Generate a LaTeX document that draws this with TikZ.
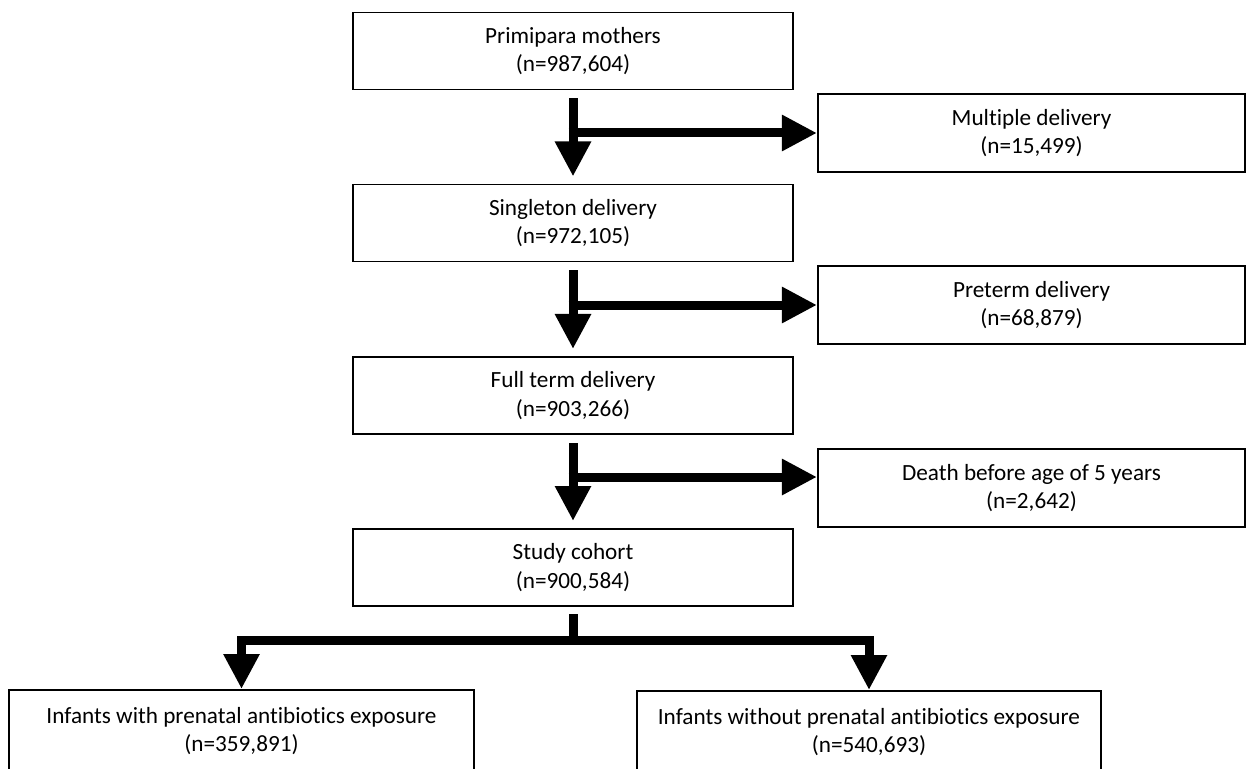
\documentclass[tikz,border=0pt]{standalone}
\usepackage{fontspec}
\setmainfont{Carlito}[Ligatures=NoCommon]
\usetikzlibrary{arrows.meta,positioning,calc}

\begin{document}
\begin{tikzpicture}[x=0.025cm,y=-0.025cm,
  box/.style={draw=black,line width=1.4pt,fill=white,align=center,
              font=\fontsize{16.5}{20}\selectfont,inner sep=2pt},
  mainbox/.style={box,minimum width=11cm,minimum height=1.925cm},
  sidebox/.style={box,minimum width=10.675cm,minimum height=1.95cm},
  outbox/.style={box,minimum width=11.6cm,minimum height=2.05cm},
  arr/.style={-{Triangle[width=0.85cm,length=0.875cm]},line width=6.4pt,line join=miter},
  shaft/.style={line width=6.4pt}
]
\useasboundingbox (0,0) rectangle (1246,768);
% main column
\node[mainbox] (pm) at (573,51)    {Primipara mothers\\(n=987,604)};
\node[mainbox] (sd) at (573,223)   {Singleton delivery\\(n=972,105)};
\node[mainbox] (ft) at (573,395.5) {Full term delivery\\(n=903,266)};
\node[mainbox] (sc) at (573,567.5) {Study cohort\\(n=900,584)};
% exclusions
\node[sidebox] (md)  at (1031.5,133) {Multiple delivery\\(n=15,499)};
\node[sidebox] (pt)  at (1031.5,305) {Preterm delivery\\(n=68,879)};
\node[sidebox] (dth) at (1031.5,488) {Death before age of 5 years\\(n=2,642)};
% exposure groups
\node[outbox] (iw) at (241.5,731) {Infants with prenatal antibiotics exposure\\(n=359,891)};
\node[outbox] (io) at (869,732)   {Infants without prenatal antibiotics exposure\\(n=540,693)};
% down arrows
\draw[arr,shorten <=0.2cm,shorten >=0.175cm] (pm.south) -- (sd.north);
\draw[arr,shorten <=0.2cm,shorten >=0.175cm] (sd.south) -- (ft.north);
\draw[arr,shorten <=0.2cm,shorten >=0.175cm] (ft.south) -- (sc.north);
% side arrows
\coordinate (b1) at (pm.south |- md.west);
\coordinate (b2) at (sd.south |- pt.west);
\coordinate (b3) at ($(ft.south |- dth.west)+(0,-11)$);
\draw[arr] ([xshift=-0.11cm]b1) -- (md.west);
\draw[arr] ([xshift=-0.11cm]b2) -- (pt.west);
\draw[arr] ([xshift=-0.11cm]b3) -- (b3 -| dth.west);
% split
\coordinate (split) at (573,640);
\draw[shaft,shorten <=0.175cm] (sc.south) -- ([yshift=-0.11cm]split);
\draw[arr] (split) -| (iw.north);
\draw[arr] (split) -| (io.north);
\end{tikzpicture}
\end{document}
